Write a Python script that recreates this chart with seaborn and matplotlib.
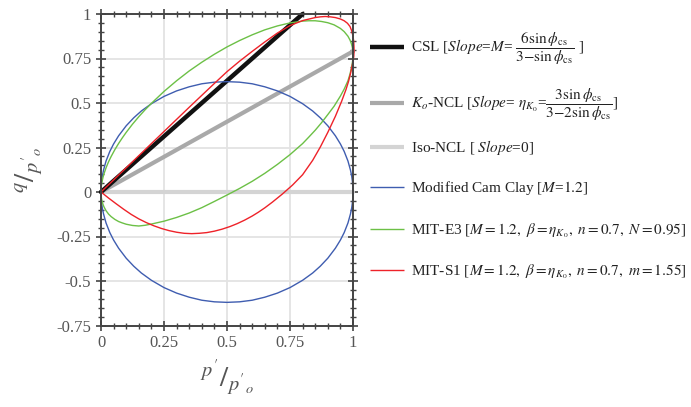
import matplotlib
matplotlib.use("Agg")
import matplotlib.pyplot as plt
import seaborn as sns
from matplotlib.lines import Line2D
from matplotlib.ticker import MultipleLocator, FixedLocator

sns.set_theme(style="white")
plt.rcParams['font.family'] = ['Liberation Serif', 'DejaVu Serif']
plt.rcParams['mathtext.fontset'] = 'stix'

# ---- data ----
csl_p = [0.0, 0.80]
csl_q = [0.0, 1.00]

k0_p = [0.0, 1.0]
k0_q = [0.0, 0.79]

iso_p = [0.0, 1.0]
iso_q = [0.0, 0.0]

mcc_p = [0, 0.0005, 0.002, 0.005, 0.01, 0.02, 0.035, 0.05, 0.07, 0.1, 0.13, 0.16, 0.2, 0.25, 0.3,
         0.35, 0.4, 0.45, 0.5, 0.55, 0.6, 0.65, 0.7, 0.75, 0.8, 0.84, 0.87, 0.9, 0.93, 0.95, 0.965,
         0.98, 0.99, 0.995, 0.998, 0.9995, 1.0,
         0.9995, 0.998, 0.995, 0.99, 0.98, 0.965, 0.95, 0.93, 0.9, 0.87, 0.84, 0.8, 0.75, 0.7,
         0.65, 0.6, 0.55, 0.5, 0.45, 0.4, 0.35, 0.3, 0.25, 0.2, 0.16, 0.13, 0.1, 0.07, 0.05,
         0.035, 0.02, 0.01, 0.005, 0.002, 0.0005, 0]
mcc_q = [0, 0.028, 0.055, 0.088, 0.123, 0.174, 0.228, 0.270, 0.316, 0.372, 0.417, 0.455, 0.496,
         0.537, 0.568, 0.591, 0.608, 0.617, 0.620, 0.617, 0.608, 0.591, 0.568, 0.537, 0.496,
         0.455, 0.417, 0.372, 0.316, 0.270, 0.228, 0.174, 0.123, 0.088, 0.055, 0.028, 0.0,
         -0.028, -0.055, -0.088, -0.123, -0.174, -0.228, -0.270, -0.316, -0.372, -0.417, -0.455,
         -0.496, -0.537, -0.568, -0.591, -0.608, -0.617, -0.620, -0.617, -0.608, -0.591, -0.568,
         -0.537, -0.496, -0.455, -0.417, -0.372, -0.316, -0.270, -0.228, -0.174, -0.123, -0.088,
         -0.055, -0.028, 0]

e3_p = [0, 0.0005, 0.002, 0.004, 0.008, 0.012, 0.02, 0.03, 0.04, 0.055, 0.07, 0.085, 0.1, 0.125,
        0.15, 0.175, 0.2, 0.25, 0.3, 0.35, 0.4, 0.45, 0.5, 0.55, 0.6, 0.65, 0.7, 0.75, 0.8, 0.825,
        0.85, 0.875, 0.9, 0.925, 0.95, 0.965, 0.98, 0.988, 0.993, 0.997, 0.9995, 1.0,
        0.9995, 0.997, 0.993, 0.988, 0.98, 0.965, 0.95, 0.925, 0.9, 0.875, 0.85, 0.825, 0.8,
        0.75, 0.7, 0.65, 0.6, 0.55, 0.5, 0.45, 0.4, 0.35, 0.3, 0.25, 0.2, 0.175, 0.15, 0.125,
        0.1, 0.085, 0.07, 0.055, 0.04, 0.03, 0.02, 0.012, 0.008, 0.004, 0.002, 0.0005, 0]
e3_q = [0, 0.020, 0.040, 0.057, 0.083, 0.103, 0.136, 0.170, 0.199, 0.238, 0.273, 0.305, 0.335,
        0.381, 0.423, 0.462, 0.498, 0.565, 0.625, 0.680, 0.729, 0.774, 0.815, 0.851, 0.883,
        0.911, 0.933, 0.950, 0.960, 0.962, 0.962, 0.958, 0.951, 0.939, 0.919, 0.901, 0.875,
        0.854, 0.836, 0.815, 0.789, 0.770,
        0.750, 0.721, 0.693, 0.662, 0.625, 0.578, 0.539, 0.482, 0.435, 0.389, 0.347, 0.309,
        0.272, 0.210, 0.155, 0.105, 0.060, 0.020, -0.017, -0.053, -0.088, -0.118, -0.143,
        -0.164, -0.180, -0.187, -0.191, -0.188, -0.181, -0.174, -0.166, -0.154, -0.138, -0.124,
        -0.105, -0.084, -0.070, -0.051, -0.037, -0.019, 0]

s1_p = [0, 0.05, 0.1, 0.15, 0.2, 0.25, 0.3, 0.35, 0.4, 0.45, 0.5, 0.55, 0.6, 0.65, 0.7, 0.75, 0.8,
        0.85, 0.87, 0.89, 0.91, 0.93, 0.95, 0.965, 0.978, 0.988, 0.995, 1.0, 1.003, 1.004, 1.004,
        1.003, 1.0, 0.996, 0.99, 0.982, 0.972, 0.955, 0.93, 0.9, 0.87, 0.84, 0.8, 0.76, 0.72,
        0.68, 0.65, 0.624, 0.6, 0.57, 0.54, 0.512, 0.48, 0.45, 0.42, 0.39, 0.36, 0.33, 0.3,
        0.27, 0.24, 0.21, 0.18, 0.15, 0.12, 0.09, 0.06, 0.03, 0]
s1_q = [0, 0.068, 0.136, 0.204, 0.272, 0.34, 0.408, 0.476, 0.543, 0.61, 0.676, 0.735, 0.79,
        0.843, 0.893, 0.935, 0.963, 0.980, 0.984, 0.986, 0.984, 0.980, 0.972, 0.962, 0.948,
        0.930, 0.905, 0.875, 0.845, 0.81, 0.785,
        0.76, 0.735, 0.705, 0.665, 0.62, 0.575, 0.51, 0.425, 0.335, 0.252, 0.178, 0.097, 0.039,
        -0.011, -0.057, -0.089, -0.114, -0.135, -0.158, -0.178, -0.194, -0.209, -0.220, -0.228,
        -0.232, -0.234, -0.232, -0.226, -0.217, -0.205, -0.190, -0.172, -0.151, -0.126, -0.097,
        -0.066, -0.034, 0]

x_ticks = [0, 0.25, 0.5, 0.75, 1]
x_labels = ["0", "0.25", "0.5", "0.75", "1"]
y_ticks = [-0.75, -0.5, -0.25, 0, 0.25, 0.5, 0.75, 1]
y_labels = ["-0.75", "-0.5", "-0.25", "0", "0.25", "0.5", "0.75", "1"]

labels = [
    r"CSL [$Slope$=$M$= $\dfrac{6\sin\phi_{\rm cs}}{3\mathrm{-}\sin\phi_{\rm cs}}$ ]",
    r"$K_o$-NCL [$Slope$= $\eta_{K_0}$=$\dfrac{3\sin\phi_{\rm cs}}{3\mathrm{-}2\sin\phi_{\rm cs}}$]",
    r"Iso-NCL [ $Slope$=0]",
    r"Modified Cam Clay [$M$=$1.2$]",
    r"MIT-E3 [$M\mathit{=1.2,}\ \beta\mathit{=}\eta_{K_0}\mathit{,\ n=0.7,\ N=0.95}$]",
    r"MIT-S1 [$M\mathit{=1.2,}\ \beta\mathit{=}\eta_{K_0}\mathit{,\ n=0.7,\ m=1.55}$]",
]
colors = ["#111111", "#a9a9a9", "#d4d4d4", "#3f5db0", "#6cc046", "#ee2229"]
widths = [3.2, 3.0, 3.0, 1.0, 1.0, 1.0]
legend_y_px = [47, 103, 147, 187, 229, 270]

fig = plt.figure(figsize=(6.91, 4.07), dpi=100)
ax = fig.add_axes([101/691, 1-325.5/407, 252/691, (325.5-14)/407])

series = [(iso_p, iso_q), (k0_p, k0_q), (csl_p, csl_q), (mcc_p, mcc_q), (e3_p, e3_q), (s1_p, s1_q)]
order = [2, 1, 0, 3, 4, 5]
for (px, qy), i in zip(series, order):
    sns.lineplot(x=px, y=qy, ax=ax, color=colors[i], lw=widths[i], sort=False,
                 estimator=None, legend=False)
for ln in ax.lines:
    ln.set_clip_on(False)
    ln.set_solid_joinstyle('round')

ax.set_xlim(0, 1)
ax.set_ylim(-0.75, 1)
ax.xaxis.set_major_locator(FixedLocator(x_ticks))
ax.yaxis.set_major_locator(FixedLocator(y_ticks))
ax.set_xticklabels(x_labels)
ax.set_yticklabels(y_labels)
ax.xaxis.set_minor_locator(MultipleLocator(0.05))
ax.yaxis.set_minor_locator(MultipleLocator(0.05))
ax.grid(True, which='major', color="#e3e3e3", lw=1.3)
ax.set_axisbelow(True)
for s in ax.spines.values():
    s.set_color("#444444")
    s.set_linewidth(1.4)
ax.tick_params(which='both', direction='inout', top=True, right=True, bottom=True, left=True,
               color="#444444", labelcolor="#555555", labelsize=12)
ax.tick_params(which='major', length=7, width=1.2)
ax.tick_params(which='minor', length=4, width=1.0)
ax.set_xlabel(r"$^{p'}/_{p'_{o}}$", fontsize=21, color="#555555", labelpad=5)
ax.set_ylabel(r"$^{q}/_{p'_{o}}$", fontsize=21, color="#555555", labelpad=8)

# legend drawn outside the axes on the right
for lab, col, w, ypx in zip(labels, colors, widths, legend_y_px):
    yf = 1 - ypx / 407
    fig.add_artist(Line2D([370/691, 404/691], [yf, yf], transform=fig.transFigure,
                          color=col, lw=w, solid_capstyle='butt'))
    fig.text(411/691, 1 - (ypx + 5) / 407, lab, fontsize=11, color="#222222",
             va='baseline', ha='left')

fig.savefig("out.png", dpi=100)
